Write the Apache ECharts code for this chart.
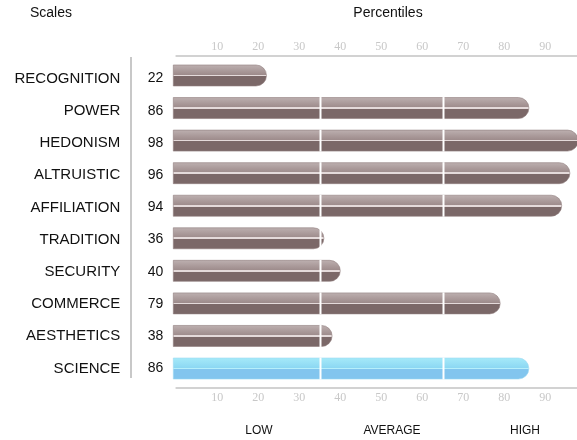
<!DOCTYPE html>
<html>
<head>
<meta charset="utf-8">
<style>
  html, body { margin: 0; padding: 0; background: #fff; }
  #chart { width: 577px; height: 440px; }
</style>
<script src="https://cdn.jsdelivr.net/npm/echarts@6/dist/echarts.min.js"></script>
</head>
<body>
<div id="chart"></div>
<script>
// Scale names and their percentile scores
const scales = ['RECOGNITION', 'POWER', 'HEDONISM', 'ALTRUISTIC', 'AFFILIATION',
                'TRADITION', 'SECURITY', 'COMMERCE', 'AESTHETICS', 'SCIENCE'];
const scores = [22, 86, 98, 96, 94, 36, 40, 79, 38, 86];
// Scale drawn in the highlight colour
const highlighted = ['SCIENCE'];
// Band boundaries (low / average / high)
const bandEdges = [35, 65];
const bandNames = ['LOW', 'AVERAGE', 'HIGH'];
const tickValues = [10, 20, 30, 40, 50, 60, 70, 80, 90];

const SANS = '"Liberation Sans", Arial, sans-serif';
const SERIF = '"Liberation Serif", "Times New Roman", serif';

const brownFill = new echarts.graphic.LinearGradient(0, 0, 0, 1, [
  { offset: 0, color: '#bdb0b0' },
  { offset: 0.46, color: '#9e8c8c' },
  { offset: 0.46, color: '#e4dada' },
  { offset: 0.54, color: '#e4dada' },
  { offset: 0.54, color: '#7b6868' },
  { offset: 1, color: '#7b6868' }
]);
const blueFill = new echarts.graphic.LinearGradient(0, 0, 0, 1, [
  { offset: 0, color: '#a6eaf9' },
  { offset: 0.46, color: '#8cd8f3' },
  { offset: 0.46, color: '#b6effb' },
  { offset: 0.54, color: '#b6effb' },
  { offset: 0.54, color: '#82c5ee' },
  { offset: 1, color: '#82c5ee' }
]);

const chart = echarts.init(document.getElementById('chart'), null, { renderer: 'canvas' });

const BAR_H = 21;

function renderBar(params, api) {
  const idx = api.value(0);
  const val = api.value(1);
  const start = api.coord([0, idx]);
  const end = api.coord([val, idx]);
  const x0 = start[0] - 3;
  const x1 = end[0];
  const y = start[1] - BAR_H / 2;
  const isHi = highlighted.indexOf(scales[idx]) >= 0;
  const children = [{
    type: 'rect',
    shape: { x: x0, y: y, width: x1 - x0, height: BAR_H, r: [0, BAR_H / 2, BAR_H / 2, 0] },
    style: {
      fill: isHi ? blueFill : brownFill,
      stroke: isHi ? '#9ad9f2' : '#8f7c7c',
      lineWidth: 0.6
    }
  }];
  bandEdges.forEach(function (b) {
    if (val > b) {
      const bx = Math.round(api.coord([b, idx])[0]) + 0.5;
      children.push({
        type: 'line',
        shape: { x1: bx, y1: y - 0.5, x2: bx, y2: y + BAR_H + 0.5 },
        style: { stroke: '#ffffff', lineWidth: 2 }
      });
    }
  });
  return { type: 'group', children: children };
}

const tickLabel = {
  color: '#c8c8c8',
  fontFamily: SERIF,
  fontSize: 12,
  formatter: function (v) { return tickValues.indexOf(v) >= 0 ? String(v) : ''; }
};

const hiddenAxis = {
  axisLine: { show: false }, axisTick: { show: false },
  splitLine: { show: false }, axisLabel: { show: false }
};

chart.setOption({
  animation: false,
  backgroundColor: '#ffffff',
  grid: [
    // bars
    { left: 176.3, top: 59.2, width: 410, height: 325.6,
      containLabel: false, outerBoundsMode: 'none' },
    // row labels
    { left: 176.3, top: 62.4, width: 410, height: 322.2,
      containLabel: false, outerBoundsMode: 'none' }
  ],
  xAxis: [
    {
      type: 'value', gridIndex: 0, position: 'top', min: 0, max: 100, interval: 10, offset: 3,
      axisLine: { show: true, lineStyle: { color: '#d2d2d2', width: 2 } },
      axisTick: { show: false }, splitLine: { show: false },
      axisLabel: Object.assign({ margin: 3 }, tickLabel)
    },
    {
      type: 'value', gridIndex: 0, position: 'bottom', min: 0, max: 100, interval: 10, offset: 3.4,
      axisLine: { show: true, lineStyle: { color: '#d2d2d2', width: 2 } },
      axisTick: { show: false }, splitLine: { show: false },
      axisLabel: Object.assign({ margin: 4 }, tickLabel)
    },
    Object.assign({ type: 'value', gridIndex: 1, min: 0, max: 100 }, hiddenAxis)
  ],
  yAxis: [
    Object.assign({ type: 'category', gridIndex: 0, data: scales, inverse: true }, hiddenAxis),
    {
      type: 'category', gridIndex: 1, data: scales, inverse: true, position: 'left', offset: 45,
      axisLine: { show: false }, axisTick: { show: false },
      axisLabel: { color: '#111', fontFamily: SANS, fontSize: 15, margin: 11 }
    },
    {
      type: 'category', gridIndex: 1, data: scores.map(String), inverse: true, position: 'left', offset: 0,
      axisLine: { show: false }, axisTick: { show: false },
      axisLabel: { color: '#111', fontFamily: SANS, fontSize: 14, margin: 13 }
    }
  ],
  graphic: [
    { type: 'line', shape: { x1: 131, y1: 57, x2: 131, y2: 378 },
      style: { stroke: '#c8c8c8', lineWidth: 2 } },
    { type: 'text', left: 30, top: 6,
      style: { text: 'Scales', font: '14px ' + SANS, fill: '#111' } },
    { type: 'text', x: 388, y: 13,
      style: { text: 'Percentiles', font: '14px ' + SANS, fill: '#111', align: 'center', verticalAlign: 'middle' } },
    { type: 'text', x: 259, y: 431,
      style: { text: bandNames[0], font: '12px ' + SANS, fill: '#111', align: 'center', verticalAlign: 'middle' } },
    { type: 'text', x: 392, y: 431,
      style: { text: bandNames[1], font: '12px ' + SANS, fill: '#111', align: 'center', verticalAlign: 'middle' } },
    { type: 'text', x: 525, y: 431,
      style: { text: bandNames[2], font: '12px ' + SANS, fill: '#111', align: 'center', verticalAlign: 'middle' } }
  ],
  series: [{
    type: 'custom',
    xAxisIndex: 0,
    yAxisIndex: 0,
    renderItem: renderBar,
    encode: { x: 1, y: 0 },
    data: scores.map(function (v, i) { return [i, v]; }),
    clip: false
  }]
});
</script>
</body>
</html>
